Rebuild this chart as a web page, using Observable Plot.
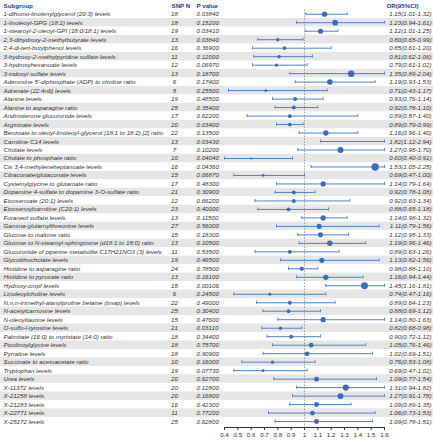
<!DOCTYPE html>
<html>
<head>
<meta charset="utf-8">
<script src="https://cdn.jsdelivr.net/npm/d3@7"></script>
<script src="https://cdn.jsdelivr.net/npm/@observablehq/plot@0.6"></script>
<style>
  html, body { margin: 0; padding: 0; background: #fff; }
</style>
</head>
<body>
<div id="chart"></div>
<script>
const subgroups = [
  "1-dihomo-linolenylglycerol (20:3) levels",
  "1-linoleoyl-GPG (18:2) levels",
  "1-stearoyl-2-oleoyl-GPI (18:0/18:1) levels",
  "2,3-dihydroxy-2-methylbutyrate levels",
  "2,4-di-tert-butylphenol levels",
  "3-hydroxy-2-methylpyridine sulfate levels",
  "3-hydroxyhexanoate levels",
  "3-indoxyl sulfate levels",
  "Adenosine 5'-diphosphate (ADP) to choline ratio",
  "Adrenate (22:4n6) levels",
  "Alanine levels",
  "Alanine to asparagine ratio",
  "Androsterone glucuronide levels",
  "Argininate levels",
  "Benzoate to oleoyl-linoleoyl-glycerol (18:1 to 18:2) [2] ratio",
  "Carnitine C14 levels",
  "Cholate levels",
  "Cholate to phosphate ratio",
  "Cis 3,4-methyleneheptanoate levels",
  "Citraconate/glutaconate levels",
  "Cysteinylglycine to glutamate ratio",
  "Dopamine 4-sulfate to dopamine 3-O-sulfate ratio",
  "Eicosenoate (20:1) levels",
  "Eicosenoylcarnitine (C20:1) levels",
  "Furaneol sulfate levels",
  "Gamma-glutamylthreonine levels",
  "Glucose to maltose ratio",
  "Glucose to N-stearoyl-sphingosine (d18:1 to 18:0) ratio",
  "Glucuronide of piperine metabolite C17H21NO3 (3) levels",
  "Glycolithocholate levels",
  "Histidine to asparagine ratio",
  "Histidine to pyruvate ratio",
  "Hydroxy-cmpf levels",
  "Linoleoylcholine levels",
  "N,n,n-trimethyl-alanylproline betaine (tmap) levels",
  "N-acetylcarnosine levels",
  "N-oleoyltaurine levels",
  "O-sulfo-l-tyrosine levels",
  "Palmitate (16:0) to myristate (14:0) ratio",
  "Picolinoylglycine levels",
  "Pyrraline levels",
  "Succinate to acetoacetate ratio",
  "Tryptophan levels",
  "Urea levels",
  "X-11372 levels",
  "X-21258 levels",
  "X-21283 levels",
  "X-22771 levels",
  "X-25172 levels"
];
const snpN = [18,18,19,13,16,11,12,13,6,5,19,25,17,20,22,13,7,10,16,15,17,21,12,23,13,27,15,13,11,19,24,13,15,6,22,25,15,21,18,18,18,10,19,20,20,20,16,11,25];
const pValues = ["0.03840","0.15200","0.03410","0.03840","0.36900","0.12000","0.06970","0.18700","0.17400","0.25500","0.48500","0.35400","0.62200","0.03400","0.13500","0.03430","0.10200","0.04040","0.04360","0.06870","0.48300","0.30900","0.66200","0.40000","0.11500","0.56000","0.18300","0.10500","0.53500","0.46500","0.78500","0.16100","0.00106","0.24500","0.49000","0.30400","0.47600","0.03110","0.34400","0.75700","0.90900","0.16000","0.07730","0.62700","0.12800","0.16800","0.42300","0.77200","0.62800"];
const orValues = [1.15,1.23,1.12,0.80,0.85,0.81,0.79,1.35,1.19,0.71,0.93,0.92,0.89,0.89,1.16,1.82,1.27,0.60,1.53,0.69,1.14,0.92,0.92,0.88,1.14,1.11,1.12,1.19,0.89,1.13,0.98,1.16,1.45,0.74,0.89,0.88,1.14,0.82,0.90,1.05,1.02,0.76,0.69,1.09,1.31,1.27,1.09,1.06,1.09];
const ciLow = [1.01,0.94,1.01,0.65,0.61,0.62,0.61,0.89,0.93,0.43,0.76,0.78,0.57,0.79,0.96,1.12,0.95,0.40,1.05,0.47,0.79,0.78,0.63,0.65,0.98,0.79,0.95,0.96,0.63,0.82,0.88,0.94,1.16,0.47,0.64,0.69,0.80,0.68,0.72,0.76,0.69,0.53,0.47,0.77,0.94,0.91,0.89,0.73,0.78];
const ciHigh = [1.32,1.61,1.25,0.99,1.20,1.06,1.02,2.04,1.53,1.17,1.14,1.10,1.40,0.99,1.40,2.94,1.70,0.91,2.25,1.00,1.64,1.08,1.34,1.18,1.32,1.56,1.33,1.46,1.26,1.56,1.10,1.44,1.81,1.16,1.23,1.12,1.63,0.98,1.12,1.46,1.51,1.08,1.02,1.54,1.82,1.78,1.35,1.53,1.51];
const headers = ["Subgroup", "SNP N", "P value", "OR(95%CI)"];
const xTicks = [0.4,0.5,0.6,0.7,0.8,0.9,1,1.1,1.2,1.3,1.4,1.5,1.6];

const rows = subgroups.map((name, k) => ({
  i: k + 1,
  name,
  snp: snpN[k],
  p: pValues[k],
  or: orValues[k],
  lo: ciLow[k],
  hi: ciHigh[k],
  label: `${orValues[k].toFixed(2)}(${ciLow[k].toFixed(2)}-${ciHigh[k].toFixed(2)})`
}));
const nRows = rows.length;

const W = 433, H = 440;
const ML = 224, MR = 49, MT = 1, MB = 13;
const yMax = nRows + 0.7;
const blue = "#3a6bbf";
const lineBlue = "#4f80c8";
const textCol = "#333333";
const headCol = "#1f3f80";
const fs = 6.2;

const chart = Plot.plot({
  width: W,
  height: H,
  marginLeft: ML,
  marginRight: MR,
  marginTop: MT,
  marginBottom: MB,
  style: {fontFamily: "'Liberation Sans', Arial, sans-serif", fontSize: "6.2px", background: "#fff", color: "#333"},
  x: {
    domain: [0.4, 1.6],
    clamp: true,
    ticks: xTicks,
    tickFormat: d => String(Math.round(d * 10) / 10),
    tickSize: 3,
    tickPadding: 2,
    line: true,
    label: null
  },
  y: {domain: [-0.5, yMax], range: [MT, H - MB], axis: null},
  r: {type: "linear", domain: [0.6, 1.53], range: [1.1, 3.7]},
  marks: [
    Plot.rect(rows.filter(d => d.i % 2 === 0), {
      y1: d => d.i - 0.5, y2: d => d.i + 0.5,
      fill: "#e6e6e6", insetLeft: -ML, insetRight: -MR
    }),
    Plot.ruleX([1], {y1: 0.5, y2: yMax, stroke: "#8a8a8a", strokeWidth: 0.8, strokeDasharray: "1.5,1.5"}),
    Plot.ruleY(rows, {y: "i", x1: "lo", x2: "hi", stroke: lineBlue, strokeWidth: 1}),
    Plot.ruleX(rows, {x: "lo", y1: d => d.i - 0.18, y2: d => d.i + 0.18, stroke: lineBlue, strokeWidth: 0.9}),
    Plot.ruleX(rows, {x: "hi", y1: d => d.i - 0.18, y2: d => d.i + 0.18, stroke: lineBlue, strokeWidth: 0.9}),
    Plot.dot(rows, {x: "or", y: "i", r: "or", fill: blue, stroke: "none", filter: d => d.or <= 1.6}),
    // body text columns
    Plot.text(rows, {y: "i", text: "name", frameAnchor: "left", textAnchor: "start", dx: 3 - ML, fontStyle: "italic", fill: textCol, fontSize: fs}),
    Plot.text(rows, {y: "i", text: d => String(d.snp), frameAnchor: "left", textAnchor: "middle", dx: 174 - ML, fontStyle: "italic", fill: textCol, fontSize: fs}),
    Plot.text(rows, {y: "i", text: "p", frameAnchor: "left", textAnchor: "start", dx: 196 - ML, fontStyle: "italic", fill: textCol, fontSize: fs}),
    Plot.text(rows, {y: "i", text: "label", frameAnchor: "right", textAnchor: "end", dx: 431 - (W - MR), fontStyle: "italic", fill: textCol, fontSize: fs}),
    // header row
    Plot.text([headers[0]], {y: () => 0, text: d => d, frameAnchor: "left", textAnchor: "start", dx: 3 - ML, fontWeight: "bold", fill: headCol, fontSize: fs}),
    Plot.text([headers[1]], {y: () => 0, text: d => d, frameAnchor: "left", textAnchor: "start", dx: 171 - ML, fontWeight: "bold", fill: headCol, fontSize: fs}),
    Plot.text([headers[2]], {y: () => 0, text: d => d, frameAnchor: "left", textAnchor: "start", dx: 196 - ML, fontWeight: "bold", fill: headCol, fontSize: fs}),
    Plot.text([headers[3]], {y: () => 0, text: d => d, frameAnchor: "right", textAnchor: "start", dx: 386 - (W - MR), fontWeight: "bold", fill: headCol, fontSize: fs})
  ]
});
document.getElementById("chart").appendChild(chart);
</script>
</body>
</html>
